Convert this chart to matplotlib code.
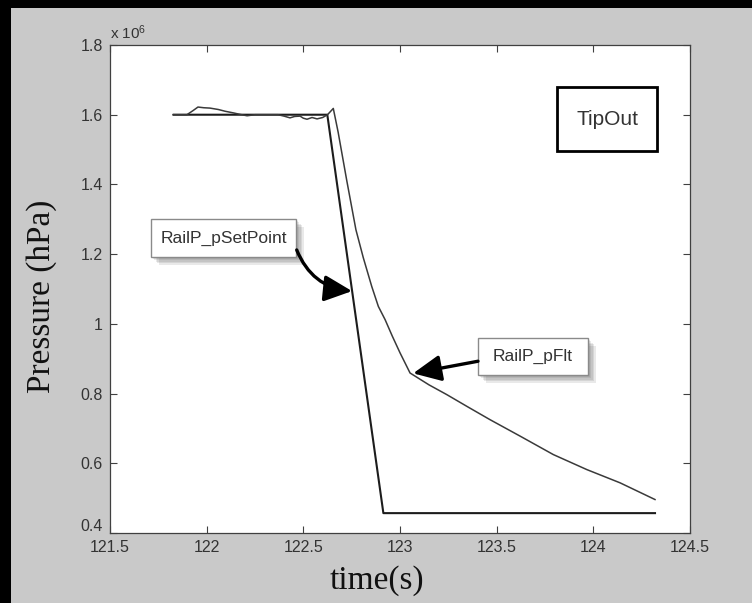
import matplotlib
matplotlib.use("Agg")
import matplotlib.pyplot as plt
import matplotlib.patheffects as pe
from matplotlib.patches import Rectangle
from matplotlib.ticker import FuncFormatter
from matplotlib.transforms import ScaledTranslation

plt.rcParams['font.family'] = ['Liberation Sans', 'DejaVu Sans']
plt.rcParams['mathtext.fontset'] = 'custom'
plt.rcParams['mathtext.rm'] = 'Liberation Sans'
plt.rcParams['mathtext.default'] = 'regular'

# Rail pressure set point (Pa) versus time (s)
setpoint_t = [121.83, 122.624, 122.914, 124.319]
setpoint_p = [1.600e6, 1.600e6, 0.457e6, 0.457e6]

# Filtered rail pressure (Pa) versus time (s)
pflt_t = [121.826, 121.898, 121.93, 121.955, 121.985, 122.017, 122.06, 122.095,
          122.14, 122.172, 122.209, 122.25, 122.30, 122.369, 122.40, 122.431,
          122.455, 122.483, 122.50, 122.519, 122.545, 122.571, 122.60, 122.625,
          122.655, 122.68, 122.725, 122.772, 122.81, 122.854, 122.888, 122.923,
          122.96, 123.0, 123.052, 123.078, 123.15, 123.242, 123.35, 123.466,
          123.621, 123.793, 123.966, 124.138, 124.319]
pflt_p = [1.600e6, 1.600e6, 1.612e6, 1.622e6, 1.620e6, 1.619e6, 1.615e6, 1.610e6,
          1.605e6, 1.601e6, 1.597e6, 1.600e6, 1.600e6, 1.600e6, 1.596e6, 1.591e6,
          1.595e6, 1.596e6, 1.590e6, 1.587e6, 1.592e6, 1.588e6, 1.592e6, 1.600e6,
          1.618e6, 1.550e6, 1.410e6, 1.270e6, 1.190e6, 1.107e6, 1.050e6, 1.012e6,
          0.965e6, 0.917e6, 0.859e6, 0.850e6, 0.825e6, 0.797e6, 0.762e6, 0.725e6,
          0.678e6, 0.625e6, 0.582e6, 0.544e6, 0.496e6]

x_ticks = [121.5, 122, 122.5, 123, 123.5, 124, 124.5]
y_ticks = [0.4e6, 0.6e6, 0.8e6, 1.0e6, 1.2e6, 1.4e6, 1.6e6, 1.8e6]
y_scale = 1e6

fig = plt.figure(figsize=(7.52, 6.03), dpi=100, facecolor='#c9c9c9')

# dark frame along the left and top edges of the figure
fig.patches.append(Rectangle((0, 0), 11 / 752, 1, transform=fig.transFigure,
                             facecolor='black', edgecolor='none', zorder=0))
fig.patches.append(Rectangle((0, 1 - 8 / 603), 1, 8 / 603, transform=fig.transFigure,
                             facecolor='black', edgecolor='none', zorder=0))

ax = fig.add_axes([110 / 752, 1 - 533 / 603, 580 / 752, 488 / 603])
ax.set_facecolor('white')

ax.plot(setpoint_t, setpoint_p, color='#1c1c1c', lw=1.5, zorder=3)
ax.plot(pflt_t, pflt_p, color='#3a3a3a', lw=1.1, zorder=3)

ax.set_xlim(121.5, 124.5)
ax.set_ylim(0.4e6, 1.8e6)
ax.set_xticks(x_ticks)
ax.set_yticks(y_ticks)
ax.xaxis.set_major_formatter(FuncFormatter(lambda v, p: f"{v:g}"))
ax.yaxis.set_major_formatter(FuncFormatter(lambda v, p: f"{v / y_scale:g}"))

axis_col = '#404040'
for s in ax.spines.values():
    s.set_color(axis_col)
    s.set_linewidth(0.9)
ax.tick_params(direction='in', length=5, width=0.8, color=axis_col,
               top=True, right=True, labelsize=11.5, labelcolor='#333333')
ax.tick_params(axis='y', pad=5)
ax.tick_params(axis='x', pad=5)

# lift the lowest y label clear of the first x label
lowest = ax.yaxis.get_major_ticks()[0].label1
lowest.set_transform(lowest.get_transform() + ScaledTranslation(0, 6 / 72, fig.dpi_scale_trans))

ax.text(0.0, 1.006, r'x 10$^{6}$', transform=ax.transAxes, ha='left', va='bottom',
        fontsize=11, color='#333333')

ax.set_xlabel('time(s)', family=['Liberation Serif', 'DejaVu Serif'], fontsize=24,
              color='#111111')
ax.set_ylabel('Pressure (hPa)', family=['Liberation Serif', 'DejaVu Serif'],
              fontsize=24, color='#111111')
ax.xaxis.set_label_coords(0.461, -0.065)
ax.yaxis.set_label_coords(-0.092, 0.484)


def label_box(x0, y0, x1, y1, text, size, edge, lw, shadow):
    box = Rectangle((x0, y0), x1 - x0, y1 - y0, transform=ax.transAxes,
                    facecolor='white', edgecolor=edge, lw=lw, zorder=5)
    if shadow:
        effects = [pe.SimplePatchShadow(offset=(d, -d), shadow_rgbFace='#555555', alpha=0.13)
                   for d in (1.5, 2.5, 3.5, 4.5, 5.5)]
        box.set_path_effects(effects + [pe.Normal()])
    ax.add_patch(box)
    ax.text((x0 + x1) / 2, (y0 + y1) / 2, text, transform=ax.transAxes,
            ha='center', va='center', fontsize=size, color='#333333', zorder=6)


label_box(0.0707, 0.5656, 0.3207, 0.6434, 'RailP_pSetPoint', 12.5, '#8a8a8a', 1.0, True)
label_box(0.6345, 0.3238, 0.8241, 0.3996, 'RailP_pFlt', 12.5, '#8a8a8a', 1.0, True)
label_box(0.7707, 0.7828, 0.9431, 0.9139, 'TipOut', 15, 'black', 2.0, False)

arrow_style = dict(arrowstyle='-|>,head_length=0.85,head_width=0.4', color='black',
                   lw=2.4, mutation_scale=20, shrinkA=0, shrinkB=0)

ax.annotate('', xy=(122.752, 1.094e6), xycoords='data',
            xytext=(0.3219, 0.58), textcoords='axes fraction',
            arrowprops=dict(connectionstyle='arc3,rad=0.3', **arrow_style), zorder=7)
ax.annotate('', xy=(123.068, 0.858e6), xycoords='data',
            xytext=(0.6345, 0.352), textcoords='axes fraction',
            arrowprops=dict(connectionstyle='arc3,rad=0.0', **arrow_style), zorder=7)

fig.savefig('out.png', dpi=100, facecolor=fig.get_facecolor())
